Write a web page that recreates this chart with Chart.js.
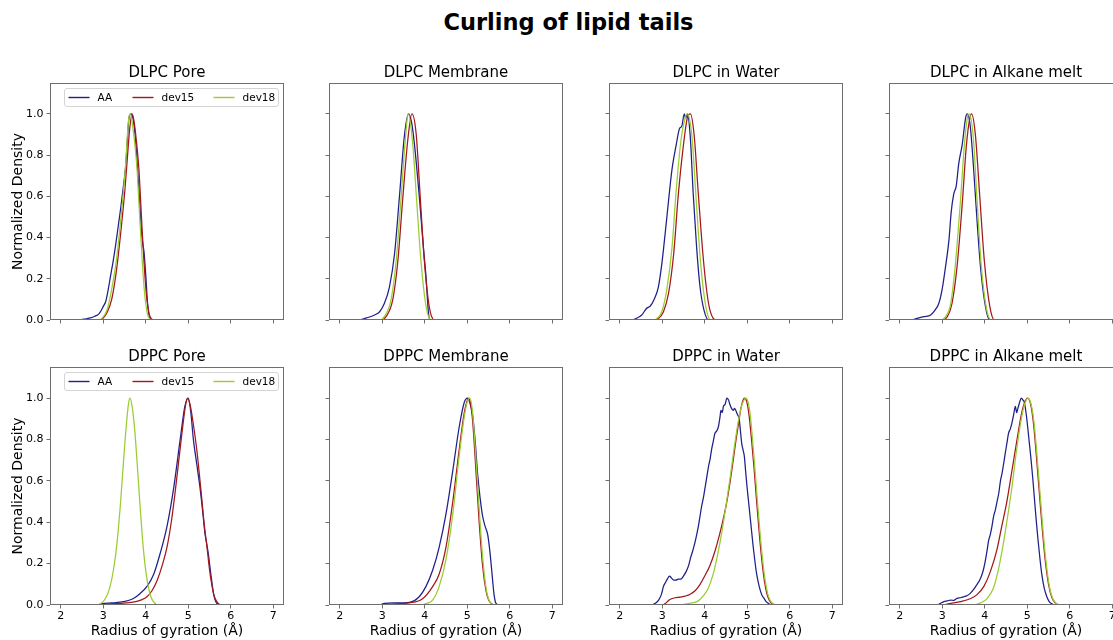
<!DOCTYPE html>
<html>
<head>
<meta charset="utf-8">
<script src="https://cdn.jsdelivr.net/npm/chart.js@4.4.1/dist/chart.umd.min.js"></script>
<style>
  html, body { margin: 0; padding: 0; }
  body { width: 1113px; height: 640px; background: #fff; position: relative; overflow: hidden; font-family: 'DejaVu Sans', sans-serif; }
  #suptitle { position: absolute; left: 0; width: 1137px; top: 9px; line-height: 26px; text-align: center; font-weight: bold; font-size: 22.5px; color: #000; }
  canvas.panel { position: absolute; }
</style>
</head>
<body>
<div id="suptitle">Curling of lipid tails</div>
<script>
// ---- labels and ticks ----
const panelTitles = ['DLPC Pore', 'DLPC Membrane', 'DLPC in Water', 'DLPC in Alkane melt',
                     'DPPC Pore', 'DPPC Membrane', 'DPPC in Water', 'DPPC in Alkane melt'];
const seriesNames = ['AA', 'dev15', 'dev18'];
const xTicks = [2, 3, 4, 5, 6, 7];
const yTicks = [0, 0.2, 0.4, 0.6, 0.8, 1.0];
const xAxisTitle = 'Radius of gyration (Å)';
const yAxisTitle = 'Normalized Density';

// ---- normalized density curves: [radius of gyration (Å), density] ----
const dlpcPoreAA = [[2.0,0],[2.4,0],[2.55,0.004],[2.7,0.01],[2.8,0.018],[2.9,0.03],[2.95,0.045],[3.0,0.065],[3.06,0.09],[3.12,0.15],[3.17,0.21],[3.23,0.28],[3.29,0.36],[3.35,0.45],[3.41,0.54],[3.47,0.64],[3.53,0.75],[3.57,0.88],[3.6,0.97],[3.65,1.0],[3.7,0.98],[3.75,0.9],[3.8,0.76],[3.85,0.6],[3.9,0.43],[3.93,0.37],[3.96,0.33],[4.0,0.22],[4.04,0.09],[4.08,0.02],[4.12,0.003],[4.2,0],[7.0,0]];
const dlpcPoreDev15 = [[2.0,0],[2.9,0],[3.0,0.01],[3.1,0.04],[3.2,0.1],[3.27,0.18],[3.33,0.27],[3.4,0.4],[3.45,0.5],[3.51,0.63],[3.57,0.79],[3.62,0.92],[3.68,1.0],[3.72,0.97],[3.78,0.87],[3.84,0.73],[3.88,0.58],[3.92,0.42],[3.96,0.28],[4.0,0.16],[4.04,0.08],[4.08,0.03],[4.13,0.006],[4.2,0],[7.0,0]];
const dlpcPoreDev18 = [[2.0,0],[2.9,0],[2.97,0.008],[3.05,0.03],[3.12,0.07],[3.2,0.15],[3.29,0.26],[3.35,0.36],[3.41,0.48],[3.47,0.61],[3.53,0.76],[3.57,0.9],[3.61,0.99],[3.64,1.0],[3.7,0.93],[3.76,0.82],[3.8,0.72],[3.84,0.57],[3.88,0.42],[3.92,0.28],[3.96,0.16],[4.0,0.08],[4.04,0.03],[4.09,0.006],[4.15,0],[7.0,0]];

const dlpcMembraneAA = [[2.0,0],[2.45,0],[2.63,0.01],[2.82,0.024],[2.94,0.04],[3.05,0.08],[3.17,0.16],[3.29,0.32],[3.41,0.61],[3.52,0.89],[3.62,1.0],[3.69,0.96],[3.76,0.85],[3.88,0.58],[3.97,0.35],[4.03,0.21],[4.09,0.03],[4.13,0],[7.0,0]];
const dlpcMembraneDev15 = [[2.0,0],[2.98,0],[3.09,0.016],[3.25,0.1],[3.37,0.29],[3.48,0.58],[3.6,0.87],[3.7,1.0],[3.8,0.9],[3.89,0.61],[3.99,0.29],[4.11,0.06],[4.23,0],[7.0,0]];
const dlpcMembraneDev18 = [[2.0,0],[2.94,0],[3.05,0.016],[3.21,0.1],[3.33,0.29],[3.45,0.61],[3.55,0.89],[3.61,1.0],[3.72,0.85],[3.81,0.58],[3.91,0.29],[4.02,0.08],[4.11,0.008],[4.19,0],[7.0,0]];

const dlpcWaterAA = [[2.0,0],[2.29,0],[2.41,0.01],[2.52,0.024],[2.63,0.056],[2.72,0.068],[2.81,0.1],[2.91,0.16],[2.99,0.27],[3.07,0.42],[3.15,0.58],[3.23,0.73],[3.33,0.85],[3.41,0.93],[3.46,0.94],[3.52,1.0],[3.55,0.98],[3.59,1.0],[3.66,0.89],[3.73,0.61],[3.81,0.35],[3.89,0.16],[3.98,0.05],[4.09,0],[7.0,0]];
const dlpcWaterDev15 = [[2.0,0],[2.8,0],[2.91,0.008],[3.03,0.04],[3.15,0.13],[3.27,0.32],[3.38,0.61],[3.5,0.85],[3.59,0.98],[3.66,1.0],[3.75,0.9],[3.85,0.61],[3.97,0.29],[4.09,0.08],[4.2,0.008],[4.28,0],[7.0,0]];
const dlpcWaterDev18 = [[2.0,0],[2.76,0],[2.88,0.008],[2.99,0.04],[3.11,0.15],[3.23,0.35],[3.33,0.63],[3.44,0.87],[3.54,0.98],[3.59,1.0],[3.7,0.89],[3.8,0.58],[3.91,0.26],[4.03,0.06],[4.14,0],[7.0,0]];

const dlpcAlkaneAA = [[2.0,0],[2.26,0],[2.41,0.008],[2.57,0.016],[2.73,0.024],[2.84,0.05],[2.92,0.08],[3.0,0.15],[3.08,0.26],[3.16,0.39],[3.21,0.52],[3.27,0.61],[3.33,0.65],[3.39,0.76],[3.47,0.85],[3.55,0.98],[3.59,1.0],[3.66,0.94],[3.74,0.73],[3.82,0.48],[3.9,0.26],[3.99,0.1],[4.09,0.008],[4.17,0],[7.0,0]];
const dlpcAlkaneDev15 = [[2.0,0],[3.0,0],[3.12,0.016],[3.23,0.08],[3.35,0.26],[3.47,0.56],[3.57,0.85],[3.65,0.98],[3.69,1.0],[3.78,0.9],[3.88,0.61],[3.99,0.29],[4.12,0.065],[4.23,0],[7.0,0]];
const dlpcAlkaneDev18 = [[2.0,0],[2.96,0],[3.08,0.016],[3.2,0.08],[3.31,0.27],[3.43,0.58],[3.53,0.87],[3.6,0.99],[3.63,1.0],[3.73,0.89],[3.82,0.58],[3.92,0.26],[4.04,0.056],[4.15,0],[7.0,0]];

const dppcPoreAA = [[2.0,0],[2.9,0],[2.94,0.005],[3.2,0.01],[3.48,0.016],[3.7,0.03],[3.87,0.056],[4.03,0.09],[4.19,0.15],[4.34,0.25],[4.5,0.38],[4.66,0.57],[4.81,0.8],[4.92,0.96],[5.0,1.0],[5.06,0.93],[5.12,0.8],[5.2,0.68],[5.28,0.56],[5.35,0.43],[5.39,0.35],[5.43,0.3],[5.47,0.25],[5.53,0.15],[5.59,0.06],[5.63,0.025],[5.67,0.008],[5.75,0],[7.0,0]];
const dppcPoreDev15 = [[2.0,0],[2.95,0],[3.1,0.004],[3.4,0.008],[3.7,0.014],[3.9,0.025],[4.03,0.04],[4.15,0.07],[4.27,0.12],[4.4,0.2],[4.5,0.28],[4.6,0.4],[4.7,0.56],[4.8,0.74],[4.88,0.88],[4.94,0.97],[4.98,1.0],[5.04,0.97],[5.1,0.9],[5.2,0.75],[5.3,0.55],[5.38,0.38],[5.44,0.28],[5.5,0.17],[5.56,0.09],[5.6,0.05],[5.66,0.02],[5.72,0.005],[5.8,0],[7.0,0]];
const dppcPoreDev18 = [[2.0,0],[2.85,0],[2.95,0.008],[3.05,0.03],[3.15,0.08],[3.25,0.18],[3.33,0.31],[3.41,0.5],[3.48,0.7],[3.54,0.86],[3.6,0.98],[3.63,1.0],[3.68,0.96],[3.74,0.85],[3.8,0.68],[3.86,0.5],[3.92,0.33],[3.98,0.2],[4.05,0.1],[4.12,0.04],[4.2,0.012],[4.28,0],[7.0,0]];

const dppcMembraneAA = [[2.0,0],[2.95,0],[3.05,0.008],[3.3,0.01],[3.64,0.013],[3.87,0.04],[4.03,0.09],[4.19,0.17],[4.34,0.28],[4.5,0.44],[4.66,0.65],[4.81,0.86],[4.93,0.98],[5.01,1.0],[5.07,0.97],[5.13,0.91],[5.19,0.78],[5.24,0.64],[5.3,0.52],[5.36,0.43],[5.42,0.38],[5.48,0.34],[5.52,0.28],[5.56,0.2],[5.6,0.11],[5.63,0.05],[5.67,0.01],[5.75,0],[7.0,0]];
const dppcMembraneDev15 = [[2.0,0],[3.0,0],[3.3,0.005],[3.64,0.01],[3.95,0.03],[4.19,0.09],[4.34,0.15],[4.5,0.28],[4.66,0.5],[4.81,0.75],[4.93,0.93],[5.03,1.0],[5.08,0.97],[5.13,0.88],[5.2,0.66],[5.28,0.4],[5.36,0.19],[5.44,0.07],[5.5,0.025],[5.57,0.006],[5.65,0],[7.0,0]];
const dppcMembraneDev18 = [[2.0,0],[3.9,0],[4.05,0.008],[4.19,0.025],[4.34,0.09],[4.5,0.22],[4.66,0.44],[4.81,0.72],[4.93,0.91],[5.0,0.98],[5.06,1.0],[5.12,0.94],[5.18,0.78],[5.25,0.56],[5.32,0.34],[5.4,0.15],[5.47,0.05],[5.54,0.012],[5.62,0],[7.0,0]];

const dppcWaterAA = [[2.0,0],[2.76,0],[2.85,0.01],[2.92,0.025],[2.98,0.05],[3.03,0.09],[3.08,0.11],[3.12,0.125],[3.17,0.14],[3.22,0.13],[3.27,0.12],[3.32,0.12],[3.38,0.125],[3.44,0.125],[3.5,0.14],[3.56,0.16],[3.62,0.19],[3.67,0.23],[3.73,0.27],[3.79,0.32],[3.85,0.38],[3.89,0.43],[3.93,0.48],[3.97,0.52],[4.01,0.57],[4.05,0.62],[4.09,0.67],[4.13,0.71],[4.16,0.75],[4.2,0.79],[4.24,0.83],[4.28,0.84],[4.32,0.86],[4.36,0.91],[4.38,0.94],[4.41,0.93],[4.44,0.96],[4.48,0.97],[4.52,1.0],[4.56,0.99],[4.59,0.97],[4.63,0.95],[4.67,0.94],[4.7,0.95],[4.73,0.94],[4.77,0.92],[4.81,0.9],[4.84,0.84],[4.87,0.78],[4.9,0.75],[4.93,0.72],[4.96,0.65],[4.99,0.58],[5.03,0.5],[5.06,0.44],[5.1,0.36],[5.14,0.28],[5.18,0.21],[5.22,0.15],[5.28,0.09],[5.34,0.05],[5.4,0.03],[5.45,0.015],[5.52,0.005],[5.58,0],[7.0,0]];
const dppcWaterDev15 = [[2.0,0],[3.0,0],[3.08,0.008],[3.15,0.022],[3.22,0.03],[3.3,0.035],[3.42,0.038],[3.54,0.043],[3.66,0.052],[3.78,0.07],[3.89,0.1],[4.0,0.14],[4.12,0.19],[4.24,0.26],[4.36,0.35],[4.44,0.42],[4.52,0.5],[4.6,0.6],[4.67,0.7],[4.73,0.79],[4.79,0.87],[4.85,0.95],[4.9,0.99],[4.94,1.0],[4.99,0.98],[5.04,0.92],[5.1,0.8],[5.16,0.66],[5.22,0.5],[5.28,0.35],[5.34,0.22],[5.4,0.12],[5.46,0.055],[5.52,0.022],[5.58,0.007],[5.66,0],[7.0,0]];
const dppcWaterDev18 = [[2.0,0],[3.4,0],[3.55,0.004],[3.7,0.01],[3.85,0.02],[3.97,0.045],[4.08,0.08],[4.2,0.15],[4.3,0.24],[4.4,0.35],[4.5,0.48],[4.6,0.62],[4.7,0.77],[4.8,0.9],[4.88,0.97],[4.97,1.0],[5.02,0.98],[5.07,0.92],[5.12,0.81],[5.18,0.66],[5.24,0.5],[5.3,0.35],[5.36,0.22],[5.42,0.12],[5.48,0.055],[5.54,0.022],[5.6,0.007],[5.68,0],[7.0,0]];

const dppcAlkaneAA = [[2.0,0],[2.88,0],[2.96,0.008],[3.04,0.016],[3.12,0.02],[3.2,0.024],[3.27,0.022],[3.35,0.032],[3.43,0.035],[3.51,0.04],[3.58,0.045],[3.66,0.056],[3.74,0.075],[3.82,0.1],[3.88,0.12],[3.94,0.15],[3.98,0.18],[4.02,0.22],[4.06,0.27],[4.09,0.31],[4.13,0.34],[4.17,0.38],[4.21,0.43],[4.25,0.46],[4.29,0.5],[4.33,0.54],[4.37,0.6],[4.41,0.64],[4.45,0.69],[4.48,0.73],[4.52,0.78],[4.56,0.83],[4.6,0.85],[4.64,0.88],[4.68,0.92],[4.72,0.96],[4.75,0.93],[4.78,0.95],[4.82,0.98],[4.86,1.0],[4.9,0.99],[4.93,0.98],[4.97,0.93],[5.01,0.86],[5.05,0.78],[5.09,0.7],[5.13,0.61],[5.17,0.51],[5.21,0.41],[5.25,0.32],[5.3,0.22],[5.34,0.15],[5.4,0.08],[5.46,0.04],[5.52,0.015],[5.58,0.006],[5.66,0],[7.0,0]];
const dppcAlkaneDev15 = [[2.0,0],[2.96,0],[3.2,0.008],[3.43,0.016],[3.66,0.03],[3.82,0.05],[3.98,0.09],[4.13,0.16],[4.29,0.27],[4.4,0.38],[4.52,0.5],[4.64,0.65],[4.76,0.8],[4.86,0.92],[4.94,0.98],[5.01,1.0],[5.08,0.97],[5.15,0.87],[5.23,0.68],[5.3,0.5],[5.36,0.35],[5.42,0.22],[5.5,0.1],[5.58,0.035],[5.66,0.01],[5.75,0],[7.0,0]];
const dppcAlkaneDev18 = [[2.0,0],[3.74,0],[3.9,0.01],[4.05,0.03],[4.2,0.08],[4.32,0.17],[4.44,0.3],[4.54,0.43],[4.64,0.57],[4.73,0.72],[4.82,0.85],[4.91,0.95],[5.02,1.0],[5.09,0.97],[5.16,0.88],[5.23,0.72],[5.3,0.54],[5.37,0.36],[5.44,0.21],[5.52,0.09],[5.6,0.03],[5.68,0.008],[5.78,0],[7.0,0]];

// curves for each panel, in the order AA, dev15, dev18
const panelCurves = [
  [dlpcPoreAA, dlpcPoreDev15, dlpcPoreDev18],
  [dlpcMembraneAA, dlpcMembraneDev15, dlpcMembraneDev18],
  [dlpcWaterAA, dlpcWaterDev15, dlpcWaterDev18],
  [dlpcAlkaneAA, dlpcAlkaneDev15, dlpcAlkaneDev18],
  [dppcPoreAA, dppcPoreDev15, dppcPoreDev18],
  [dppcMembraneAA, dppcMembraneDev15, dppcMembraneDev18],
  [dppcWaterAA, dppcWaterDev15, dppcWaterDev18],
  [dppcAlkaneAA, dppcAlkaneDev15, dppcAlkaneDev18]
];

// ---- styling and grid geometry ----
const seriesColors = ['#1f1f8a', '#a3171c', '#9acd32'];
const FONT = "'DejaVu Sans', sans-serif";
const SPINE = '#6e6e6e';
const FRAME_LEFT = [50, 329, 609, 889];
const FRAME_TOP = [83, 367];
const FRAME_W = 234;
const FRAME_H = [237, 238];
const SIDE = 48;          // room left and right of each plot frame
const TOP_ROOM = 30;      // room for the subplot title
const BOTTOM_ROOM = [20, 35];

Chart.defaults.font.family = FONT;
Chart.defaults.color = '#000';

// plot frame drawn on all four sides, above the curves
const frameBox = {
  id: 'frameBox',
  afterDatasetsDraw(chart) {
    const { ctx, chartArea: a } = chart;
    ctx.save();
    ctx.strokeStyle = SPINE;
    ctx.lineWidth = 1;
    ctx.strokeRect(Math.round(a.left) + 0.5, Math.round(a.top) + 0.5,
                   Math.round(a.right - a.left) - 1, Math.round(a.bottom - a.top) - 1);
    ctx.restore();
  }
};

// three-column legend in a rounded box at the top of the plot
const boxLegend = {
  id: 'boxLegend',
  afterDraw(chart, args, opts) {
    if (!opts.show) return;
    const { ctx, chartArea: a } = chart;
    const x0 = a.left + 14.5, y0 = a.top + 5.5, w = 214, h = 18, r = 2.5;
    ctx.save();
    ctx.beginPath();
    ctx.moveTo(x0 + r, y0);
    ctx.arcTo(x0 + w, y0, x0 + w, y0 + h, r);
    ctx.arcTo(x0 + w, y0 + h, x0, y0 + h, r);
    ctx.arcTo(x0, y0 + h, x0, y0, r);
    ctx.arcTo(x0, y0, x0 + w, y0, r);
    ctx.closePath();
    ctx.fillStyle = 'rgba(255,255,255,0.8)';
    ctx.fill();
    ctx.strokeStyle = '#d4d4d4';
    ctx.lineWidth = 1;
    ctx.stroke();
    const starts = [4, 68, 149];
    const cy = y0 + h / 2;
    ctx.font = '10.5px ' + FONT;
    ctx.textBaseline = 'middle';
    ctx.textAlign = 'left';
    chart.data.datasets.forEach((ds, i) => {
      const sx = x0 + starts[i];
      ctx.strokeStyle = ds.borderColor;
      ctx.lineWidth = 1.4;
      ctx.beginPath();
      ctx.moveTo(sx, cy);
      ctx.lineTo(sx + 21, cy);
      ctx.stroke();
      ctx.fillStyle = '#000';
      ctx.fillText(ds.label, sx + 29, cy + 0.5);
    });
    ctx.restore();
  }
};

panelTitles.forEach((title, p) => {
  const row = Math.floor(p / 4), col = p % 4;
  const cv = document.createElement('canvas');
  cv.className = 'panel';
  const W = SIDE + FRAME_W + SIDE;
  const H = TOP_ROOM + FRAME_H[row] + BOTTOM_ROOM[row];
  cv.width = W; cv.height = H;
  cv.style.left = (FRAME_LEFT[col] - SIDE) + 'px';
  cv.style.top = (FRAME_TOP[row] - TOP_ROOM) + 'px';
  cv.style.width = W + 'px'; cv.style.height = H + 'px';
  document.body.appendChild(cv);

  const datasets = panelCurves[p].map((curve, i) => ({
    label: seriesNames[i],
    data: curve.map(([x, y]) => ({ x, y })),
    borderColor: seriesColors[i],
    borderWidth: 1.25,
    pointRadius: 0,
    fill: false,
    cubicInterpolationMode: 'monotone',
    order: 3 - i
  }));

  new Chart(cv, {
    type: 'line',
    data: { datasets },
    plugins: [frameBox, boxLegend],
    options: {
      responsive: false,
      animation: false,
      events: [],
      layout: { padding: 0 },
      plugins: {
        legend: { display: false },
        tooltip: { enabled: false },
        boxLegend: { show: col === 0 },
        title: {
          display: true, text: title, color: '#000',
          font: { size: 15, weight: 'normal', family: FONT },
          padding: { top: TOP_ROOM - 19, bottom: 1 }
        }
      },
      scales: {
        x: {
          type: 'linear', min: 1.75, max: 7.25,
          afterBuildTicks: s => { s.ticks = xTicks.map(v => ({ value: v })); },
          afterFit: s => { s.height = BOTTOM_ROOM[row]; },
          ticks: { display: row === 1, font: { size: 11 }, color: '#000', padding: 1, maxRotation: 0, autoSkip: false,
                   callback: v => String(v) },
          grid: { display: true, drawOnChartArea: false, drawTicks: true, tickLength: 3.5, color: SPINE },
          border: { display: false },
          title: { display: row === 1, text: xAxisTitle, color: '#000', font: { size: 14 }, padding: { top: 0, bottom: 0 } }
        },
        y: {
          min: 0, max: 1.15,
          afterBuildTicks: s => { s.ticks = yTicks.map(v => ({ value: v })); },
          afterFit: s => { s.width = SIDE; },
          ticks: { display: col === 0, font: { size: 11 }, color: '#000', padding: 3,
                   callback: v => Number(v).toFixed(1) },
          grid: { display: true, drawOnChartArea: false, drawTicks: true, tickLength: 3.5, color: SPINE },
          border: { display: false },
          title: { display: col === 0, text: yAxisTitle, color: '#000', font: { size: 14 }, padding: { top: 8, bottom: 0 } }
        },
        // empty right-hand box so the frame sits centred under the subplot title
        yRight: {
          type: 'linear', position: 'right', min: 0, max: 1.15,
          afterFit: s => { s.width = SIDE; },
          ticks: { display: false },
          grid: { display: false },
          border: { display: false }
        }
      }
    }
  });
});
</script>
</body>
</html>
